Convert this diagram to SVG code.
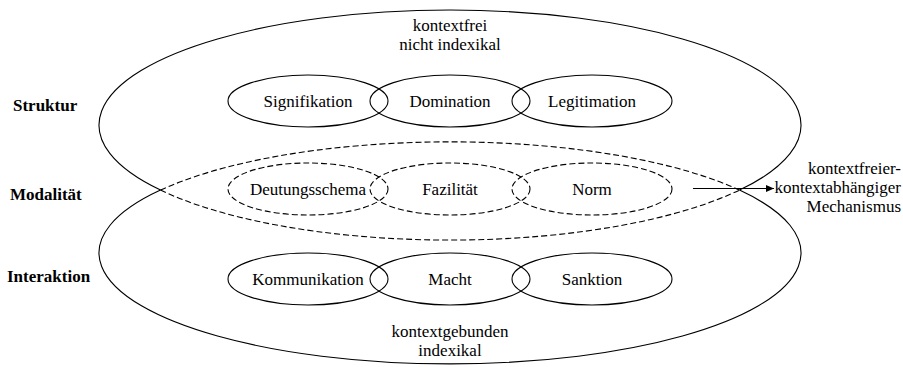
<svg xmlns="http://www.w3.org/2000/svg" width="903" height="367" viewBox="0 0 903 367">
  <style>
    text { font-family: 'Liberation Serif', 'Times New Roman', Times, serif; font-size: 17px; fill: #000; }
    .c { text-anchor: middle; }
    .e { text-anchor: end; }
    .b { font-weight: bold; }
    .s { fill: none; stroke: #000; stroke-width: 1.1; }
    .d { fill: none; stroke: #000; stroke-width: 1.1; stroke-dasharray: 6 3; }
  </style>
  <defs>
    <marker id="arrow" viewBox="0 0 8 8" refX="8" refY="4" markerWidth="8" markerHeight="8" markerUnits="userSpaceOnUse" orient="auto">
      <path d="M0,0.5 L8,4 L0,7.5 Z" fill="#000"/>
    </marker>
  </defs>
  <rect width="903" height="367" fill="#fff"/>

  <g id="bereich-struktur">
    <path class="s" d="M160.5,190.1 A351,115 0 1 1 739.5,190.1"/>
    <path class="d" d="M160.5,190.1 A351,115 0 0 0 739.5,190.1"/>
    <text class="c" x="450" y="31">kontextfrei</text>
    <text class="c" x="450" y="50">nicht indexikal</text>
  </g>
  <g id="bereich-interaktion">
    <path class="s" d="M160.5,190.1 A351,111 0 1 0 739.5,190.1"/>
    <path class="d" d="M160.5,190.1 A351,111 0 0 1 739.5,190.1"/>
    <text class="c" x="450" y="337">kontextgebunden</text>
    <text class="c" x="450" y="356">indexikal</text>
  </g>

  <g id="label-struktur"><text class="b" x="13" y="111">Struktur</text></g>
  <g id="label-modalitaet"><text class="b" x="10" y="200">Modalität</text></g>
  <g id="label-interaktion"><text class="b" x="7" y="282">Interaktion</text></g>

  <g id="signifikation"><ellipse class="s" cx="308" cy="101" rx="80" ry="26"/><text class="c" x="308" y="107">Signifikation</text></g>
  <g id="domination"><ellipse class="s" cx="450" cy="101" rx="80" ry="26"/><text class="c" x="450" y="107">Domination</text></g>
  <g id="legitimation"><ellipse class="s" cx="592" cy="101" rx="80" ry="26"/><text class="c" x="592" y="107">Legitimation</text></g>

  <g id="deutungsschema"><ellipse class="d" cx="308" cy="189" rx="80" ry="26"/><text class="c" x="308" y="195">Deutungsschema</text></g>
  <g id="fazilitaet"><ellipse class="d" cx="450" cy="189" rx="80" ry="26"/><text class="c" x="450" y="195">Fazilität</text></g>
  <g id="norm"><ellipse class="d" cx="592" cy="189" rx="80" ry="26"/><text class="c" x="592" y="195">Norm</text></g>

  <g id="kommunikation"><ellipse class="s" cx="308" cy="279" rx="80" ry="26"/><text class="c" x="308" y="285">Kommunikation</text></g>
  <g id="macht"><ellipse class="s" cx="450" cy="279" rx="80" ry="26"/><text class="c" x="450" y="285">Macht</text></g>
  <g id="sanktion"><ellipse class="s" cx="592" cy="279" rx="80" ry="26"/><text class="c" x="592" y="285">Sanktion</text></g>

  <g id="mechanismus">
    <text class="e" x="901" y="174">kontextfreier-</text>
    <text class="e" x="901" y="193">kontextabhängiger</text>
    <text class="e" x="901" y="212">Mechanismus</text>
  </g>

  <g id="connectors">
    <line x1="693" y1="188.5" x2="774" y2="188.5" stroke="#000" stroke-width="1.1" marker-end="url(#arrow)"/>
  </g>
</svg>
